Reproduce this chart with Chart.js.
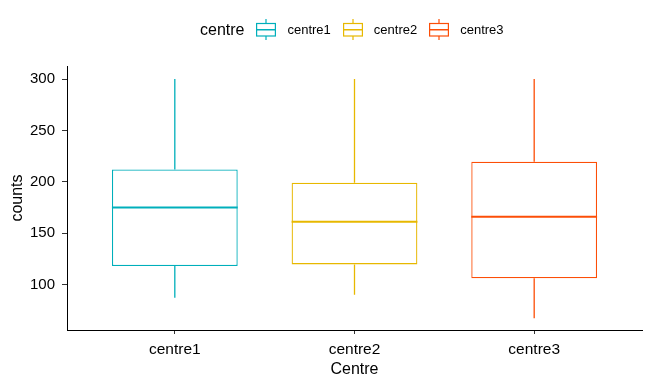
<!DOCTYPE html>
<html>
<head>
<meta charset="utf-8">
<script src="https://cdn.jsdelivr.net/npm/chart.js@4"></script>
<style>
  html, body { margin: 0; padding: 0; background: #fff; }
  #wrap { position: relative; width: 650px; height: 385px; }
  #legend {
    position: absolute; left: 200px; top: 19px; height: 21px;
    display: flex; align-items: center;
    font-family: 'Liberation Sans', Arial, sans-serif; color: #000;
  }
  #legend .title { font-size: 16px; margin-right: 12px; }
  #legend canvas { display: block; margin-right: 11px; }
  #legend .lbl { font-size: 13px; margin-right: 12px; }
</style>
</head>
<body>
<div id="wrap">
  <canvas id="chart" width="650" height="385"></canvas>
  <div id="legend"><span class="title">centre</span></div>
</div>
<script>
// ==== data ====
const categories = ['centre1', 'centre2', 'centre3'];
const whiskerLow = [87, 90, 67];
const q1 = [118, 119.5, 106];
const median = [175, 161, 166];
const q3 = [212, 199, 219.5];
const whiskerHigh = [300, 300, 300];
const yTicks = [100, 150, 200, 250, 300];
const colors = ['#00AFBB', '#E7B800', '#FC4E07'];

const FONT = "'Liberation Sans', Arial, sans-serif";

// ==== legend (html, ggplot style with title on the left) ====
const legend = document.getElementById('legend');
categories.forEach((name, i) => {
    const c = document.createElement('canvas');
    c.width = 20; c.height = 21;
    const g = c.getContext('2d');
    g.strokeStyle = colors[i]; g.lineWidth = 1.2;
    g.beginPath();
    g.moveTo(10, 0); g.lineTo(10, 4);
    g.moveTo(10, 17); g.lineTo(10, 21);
    g.stroke();
    g.strokeRect(0.6, 4.5, 18.8, 12.5);
    g.lineWidth = 1.5;
    g.beginPath(); g.moveTo(0.5, 10.75); g.lineTo(19.5, 10.75); g.stroke();
    legend.appendChild(c);
    const s = document.createElement('span');
    s.className = 'lbl'; s.textContent = name;
    legend.appendChild(s);
});

// ==== whiskers + medians around the floating bars ====
const boxExtras = {
    id: 'boxExtras',
    beforeDatasetsDraw(chart) {
        const { ctx, scales: { x, y } } = chart;
        ctx.save();
        ctx.lineWidth = 1.3;
        categories.forEach((_, i) => {
            const px = x.getPixelForValue(i + 1);
            ctx.strokeStyle = colors[i];
            ctx.beginPath();
            ctx.moveTo(px, y.getPixelForValue(whiskerHigh[i]));
            ctx.lineTo(px, y.getPixelForValue(q3[i]));
            ctx.moveTo(px, y.getPixelForValue(q1[i]));
            ctx.lineTo(px, y.getPixelForValue(whiskerLow[i]));
            ctx.stroke();
        });
        ctx.restore();
    },
    afterDatasetsDraw(chart) {
        const { ctx, scales: { x, y } } = chart;
        const bars = chart.getDatasetMeta(0).data;
        ctx.save();
        ctx.lineWidth = 2;
        categories.forEach((_, i) => {
            const px = x.getPixelForValue(i + 1), w = bars[i].width;
            const py = y.getPixelForValue(median[i]);
            ctx.strokeStyle = colors[i];
            ctx.beginPath();
            ctx.moveTo(px - w / 2, py); ctx.lineTo(px + w / 2, py);
            ctx.stroke();
        });
        ctx.restore();
    }
};

new Chart(document.getElementById('chart'), {
    type: 'bar',
    data: {
        datasets: [{
            data: categories.map((_, i) => ({ x: i + 1, y: [q1[i], q3[i]] })),
            backgroundColor: '#fff',
            borderColor: colors,
            borderWidth: 1.3,
            borderSkipped: false,
            barPercentage: 0.7,
            categoryPercentage: 1
        }]
    },
    options: {
        responsive: false,
        animation: false,
        events: [],
        layout: { padding: { left: 0, top: 66, right: 8, bottom: 0 } },
        plugins: { legend: { display: false }, tooltip: { enabled: false } },
        scales: {
            x: {
                type: 'linear',
                min: 0.4, max: 3.6,
                offset: false,
                afterBuildTicks: s => { s.ticks = categories.map((_, i) => ({ value: i + 1 })); },
                afterFit: s => { s.height = 55; },
                grid: { offset: false, drawOnChartArea: false, tickLength: 4, tickColor: '#333', tickWidth: 1 },
                border: { color: '#000', width: 1 },
                ticks: {
                    color: '#000', padding: 6,
                    font: { family: FONT, size: 15.5 },
                    callback: v => categories[Math.round(v) - 1]
                },
                title: {
                    display: true, text: 'Centre', color: '#000',
                    font: { family: FONT, size: 16 },
                    padding: { top: 0, bottom: 6 }
                }
            },
            y: {
                min: 55.6, max: 312.7,
                afterBuildTicks: s => { s.ticks = yTicks.map(v => ({ value: v })); },
                afterFit: s => { s.width = 67; },
                grid: { drawOnChartArea: false, tickLength: 5, tickColor: '#333', tickWidth: 1 },
                border: { color: '#000', width: 1 },
                ticks: { color: '#000', padding: 7, font: { family: FONT, size: 15 } },
                title: {
                    display: true, text: 'counts', color: '#000',
                    font: { family: FONT, size: 16 },
                    padding: { top: 8, bottom: 0 }
                }
            }
        }
    },
    plugins: [boxExtras]
});
</script>
</body>
</html>
